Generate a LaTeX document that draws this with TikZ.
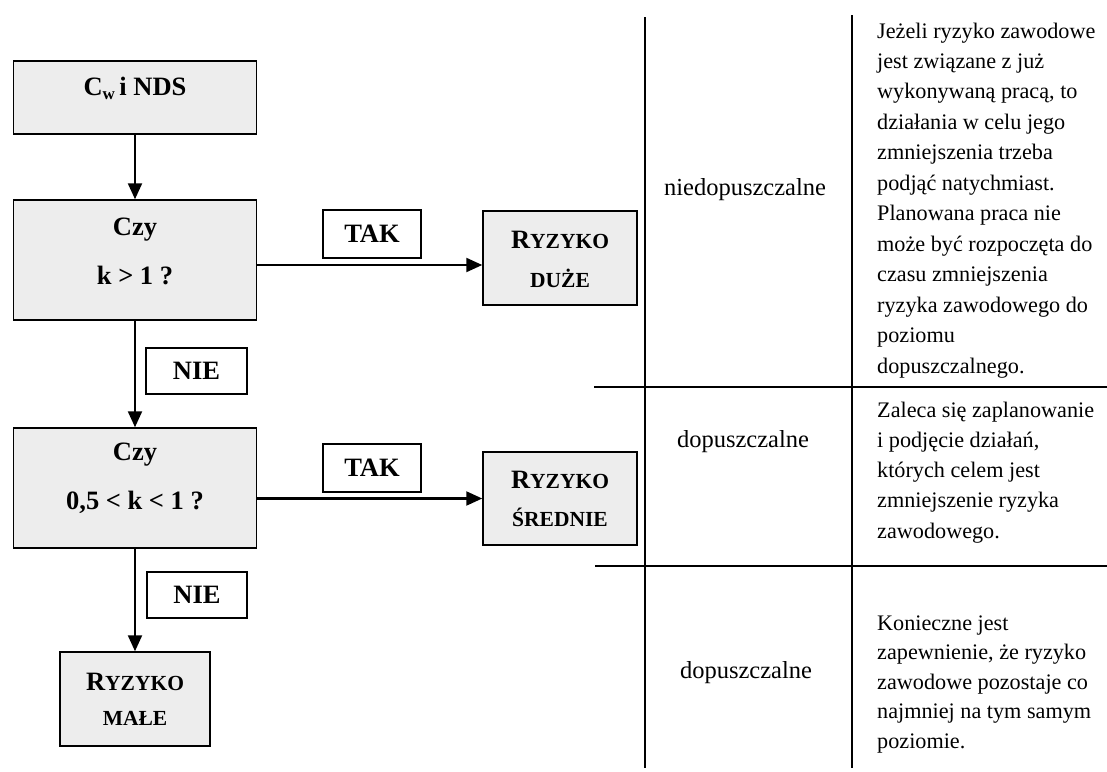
\documentclass[tikz,border=0pt]{standalone}
\usepackage{fontspec}
\setmainfont{Liberation Serif}
\usetikzlibrary{arrows.meta}
\newcommand\fsbold{\fontsize{26.5}{30}\selectfont\bfseries}
\newcommand\scx[1]{{\fontsize{21.5}{21.5}\selectfont #1}}
\begin{document}
\begin{tikzpicture}[x=1pt,y=-1pt,
  fbox/.style={draw=black, line width=1.5pt, fill=black!7, inner sep=0pt},
  lbox/.style={draw=black, line width=1.3pt, fill=white, inner sep=0pt, font=\fsbold,
               minimum width=99pt, minimum height=47pt},
  ftext/.style={font=\fsbold, inner sep=0pt, anchor=center},
  arr/.style={line width=2.2pt, -{Triangle[length=16pt,width=14pt]}},
  tline/.style={line width=1.4pt},
  lvl/.style={font=\fontsize{24.5}{28}\selectfont, inner sep=0pt, anchor=center},
  ttext/.style={align=left, inner sep=0pt, anchor=base west}
]
\useasboundingbox[fill=white] (0,0) rectangle (1107,771);

% flowchart boxes
\node[fbox, minimum width=243pt, minimum height=73pt] (b1) at (135,97.5) {};
\node[ftext] (b1t) at (135,88) {C\raisebox{-4pt}{\fontsize{17}{17}\selectfont w}\,i NDS};

\node[fbox, minimum width=243pt, minimum height=120pt] (b2) at (135,260) {};
\node[ftext] (b2a) at (135,230) {Czy};
\node[ftext] (b2b) at (135,275) {k > 1 ?};

\node[fbox, minimum width=243pt, minimum height=120pt] (b3) at (135,488) {};
\node[ftext] (b3a) at (135,455) {Czy};
\node[ftext] (b3b) at (135,502) {0,5 < k < 1 ?};

\node[fbox, minimum width=150pt, minimum height=94pt] (b4) at (135,699) {};
\node[ftext] (b4a) at (135,682) {R\scx{YZYKO}};
\node[ftext] (b4b) at (135,718) {\scx{MAŁE}};

\node[fbox, minimum width=154pt, minimum height=94pt] (d1) at (560,258) {};
\node[ftext] (d1a) at (560,240) {R\scx{YZYKO}};
\node[ftext] (d1b) at (560,278) {\scx{DUŻE}};

\node[fbox, minimum width=154pt, minimum height=93pt] (d2) at (560,498.5) {};
\node[ftext] (d2a) at (560,480) {R\scx{YZYKO}};
\node[ftext] (d2b) at (560,517) {\scx{ŚREDNIE}};

% labels
\node[lbox, minimum width=98pt, minimum height=48pt] (tak1) at (372,234) {TAK};
\node[lbox, minimum width=98pt, minimum height=48pt] (tak2) at (372,468) {TAK};
\node[lbox, minimum width=101pt, minimum height=46pt] (nie1) at (196.5,371) {NIE};
\node[lbox, minimum width=100pt, minimum height=46pt] (nie2) at (197,595) {NIE};

% connectors
\draw[arr] (b1.south) -- (b2.north);
\draw[arr] (b2.south) -- (b3.north);
\draw[arr] (b3.south) -- (b4.north);
\draw[arr] ([yshift=-5pt]b2.east) -- ([yshift=-5pt]b2.east -| d1.west);
\draw[arr] (b3.east |- d2.west) -- (d2.west);

% table
\draw[tline] (645,17) -- (645,768);
\draw[tline] (852,15) -- (852,768);
\draw[tline] (594,387) -- (1107,387);
\draw[tline] (595,566) -- (1107,566);

\node[lvl] (l1) at (745,190) {niedopuszczalne};
\node[lvl] (l2) at (743,442) {dopuszczalne};
\node[lvl] (l3) at (746,673) {dopuszczalne};

\node[ttext, font=\fontsize{22.2}{30.45}\selectfont] (t1) at (877,373) {Jeżeli ryzyko zawodowe\\jest związane z już\\wykonywaną pracą, to\\działania w celu jego\\zmniejszenia trzeba\\podjąć natychmiast.\\Planowana praca nie\\może być rozpoczęta do\\czasu zmniejszenia\\ryzyka zawodowego do\\poziomu\\dopuszczalnego.};
\node[ttext, font=\fontsize{22.2}{30.25}\selectfont] (t2) at (877,538) {Zaleca się zaplanowanie\\i podjęcie działań,\\których celem jest\\zmniejszenie ryzyka\\zawodowego.};
\node[ttext, font=\fontsize{22.2}{29.5}\selectfont] (t3) at (877,748) {Konieczne jest\\zapewnienie, że ryzyko\\zawodowe pozostaje co\\najmniej na tym samym\\poziomie.};
\end{tikzpicture}
\end{document}
